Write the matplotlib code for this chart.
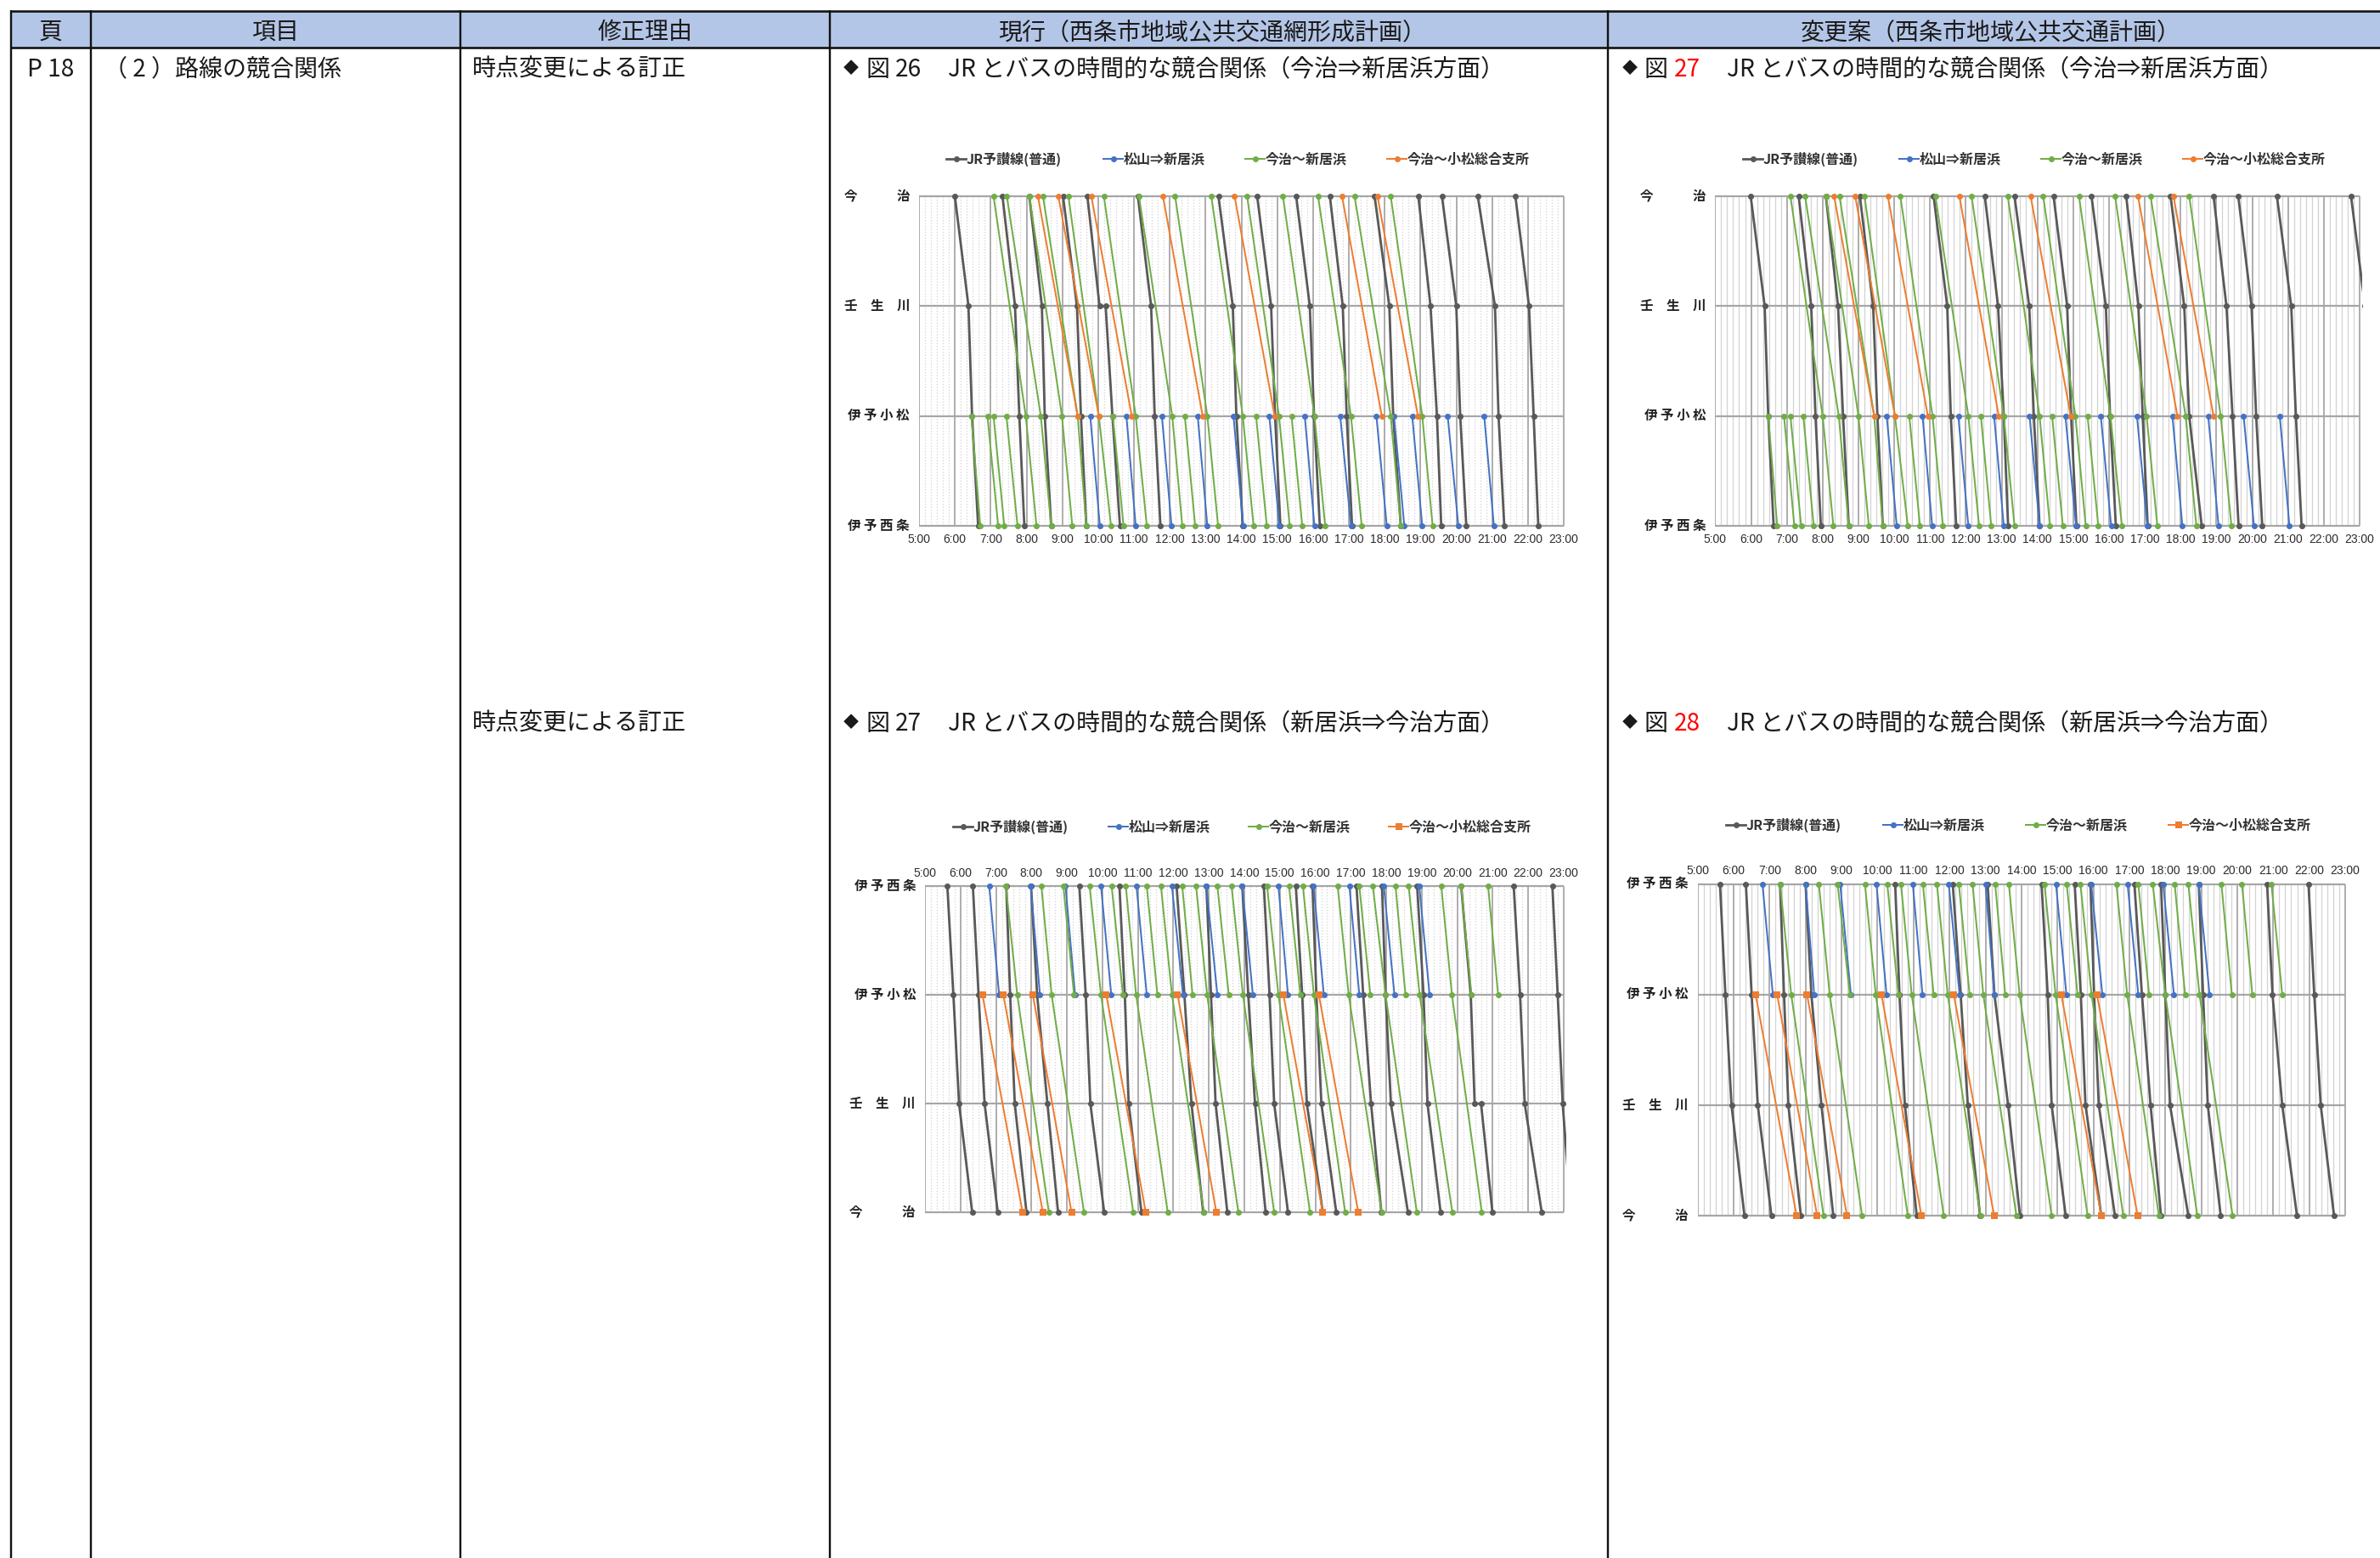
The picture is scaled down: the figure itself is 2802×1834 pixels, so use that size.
import matplotlib
matplotlib.use("Agg")
import matplotlib.pyplot as plt
from matplotlib.lines import Line2D
from matplotlib.patches import Rectangle
from matplotlib.transforms import ScaledTranslation

W, H, DPI = 2802, 1834, 200
CJK = ['Noto Sans CJK JP', 'DejaVu Sans']
NARROW = ['Liberation Sans', 'DejaVu Sans']
plt.rcParams['font.family'] = CJK

# ---------- text ----------
HEADERS = ['頁', '項目', '修正理由', '現行（西条市地域公共交通網形成計画）', '変更案（西条市地域公共交通計画）']
PAGE = 'P 18'
ITEM = '（ 2 ）路線の競合関係'
REASON = '時点変更による訂正'
TITLE_DOWN = 'JR とバスの時間的な競合関係（今治⇒新居浜方面）'
TITLE_UP = 'JR とバスの時間的な競合関係（新居浜⇒今治方面）'
SERIES_NAMES = ['JR予讃線(普通)', '松山⇒新居浜', '今治～新居浜', '今治～小松総合支所']
STATIONS_DOWN = ['今　　　治', '壬　生　川', '伊 予 小 松', '伊 予 西 条']
STATIONS_UP = ['伊 予 西 条', '伊 予 小 松', '壬　生　川', '今　　　治']
HOURS = list(range(5, 24))
HOUR_LABELS = [f'{h}:00' for h in HOURS]

# ---------- data: decimal hours at each of the 4 stations, top row to bottom row ----------
# None = no stop shown; a tuple = arrival and departure at the same station
# 現行・下り
JR_1 = [[6.00, 6.38, 6.48, 6.65], [7.33, 7.68, 7.80, 7.94], [8.08, 8.43, 8.51, 8.69],
        [9.02, 9.41, 9.52, 9.67], [9.70, (10.04, 10.21), 10.40, 10.61], [11.11, 11.48, 11.58, 11.74],
        [13.36, 13.76, 13.86, 14.04], [14.44, 14.83, 14.94, 15.09], [15.53, 15.91, 16.03, 16.19],
        [16.47, 16.83, 16.94, 17.09], [17.72, 18.13, 18.24, 18.45], [18.94, 19.28, 19.46, 19.58],
        [19.60, 20.00, 20.11, 20.28], [20.60, 21.08, 21.18, 21.34], [21.65, 22.03, 22.16, 22.29]]
BLUE_1 = [[None, None, a, b] for a, b in [
    (9.78, 10.05), (10.79, 11.05), (11.78, 12.05), (12.78, 13.05), (13.78, 14.05), (14.78, 15.06),
    (15.77, 16.04), (16.76, 17.06), (17.77, 18.06), (18.26, 18.55), (18.77, 19.05), (19.76, 20.06),
    (20.78, 21.05)]]
GREEN_1 = [[7.08, None, 7.98, 8.28], [7.45, None, 8.40, 8.69], [8.08, None, 8.99, 9.28],
           [8.46, None, 9.43, 9.67], [9.17, None, 10.02, 10.36], [10.16, None, 11.05, 11.36],
           [11.14, None, 12.07, 12.35], [12.15, None, 13.05, 13.35], [13.16, None, 14.04, 14.34],
           [14.16, None, 15.05, 15.35], [15.16, None, 16.04, 16.34], [16.14, None, 17.06, 17.36],
           [17.16, None, 18.17, 18.45], [18.17, None, 19.05, 19.34],
           [None, None, 6.46, 6.71], [None, None, 6.91, 7.21], [None, None, 7.08, 7.38],
           [None, None, 7.44, 7.75], [None, None, 10.41, 10.71], [None, None, 12.42, 12.71],
           [None, None, 14.41, 14.71], [None, None, 15.40, 15.70]]
ORANGE_1 = [[8.32, None, 9.43, None], [8.89, None, 10.02, None], [9.81, None, 10.94, None],
            [11.81, None, 12.92, None], [13.81, None, 14.93, None], [16.81, None, 17.92, None],
            [17.80, None, 18.93, None]]
# 現行・上り
JR_2 = [[5.63, 5.80, 5.96, 6.33], [6.35, 6.51, 6.68, 7.05], [7.29, 7.40, 7.53, 7.86],
        [7.99, 8.16, 8.45, 8.75], [9.35, 9.53, 9.66, 10.05], [10.48, 10.63, 10.74, 11.10],
        [12.09, 12.31, 12.51, 12.84], [12.93, 13.06, 13.19, 13.52], [13.94, 14.11, 14.30, 14.60],
        [14.55, 14.71, 14.84, 15.23], [15.45, 15.63, 15.76, 16.21], [15.92, 16.03, 16.17, 16.59],
        [17.16, 17.35, 17.57, 17.86], [17.88, 17.98, 18.13, 18.61], [18.87, 19.05, 19.16, 19.53],
        [20.11, 20.38, (20.49, 20.67), 20.99], [21.59, 21.77, 21.90, 22.38], [22.68, 22.83, 22.97, 23.20]]
BLUE_2 = [[a, b, None, None] for a, b in [
    (6.81, 7.09), (7.98, 8.24), (8.96, 9.23), (9.96, 10.25), (10.96, 11.25), (11.96, 12.27),
    (12.93, 13.24), (13.94, 14.24), (14.96, 15.23), (15.95, 16.24), (16.96, 17.24), (17.93, 18.23),
    (18.93, 19.22)]]
GREEN_2 = [[7.28, 7.60, None, 8.49], [8.28, 8.57, None, 9.48], [8.90, 9.20, None, None],
           [9.64, 9.96, None, 10.87], [10.26, 10.58, None, None], [10.66, 10.95, None, 11.84],
           [11.25, 11.55, None, None], [11.65, 11.96, None, 12.86], [12.25, 12.54, None, None],
           [12.64, 12.95, None, 13.83], [13.24, 13.56, None, None], [13.64, 13.96, None, 14.84],
           [14.64, 14.96, None, 15.85], [15.26, 15.58, None, None], [15.65, 15.96, None, 16.84],
           [16.63, 16.94, None, 17.87], [17.24, 17.55, None, None], [17.62, 17.98, None, 18.86],
           [18.26, 18.54, None, None], [18.63, 18.94, None, 19.86], [19.55, 19.85, None, 20.69],
           [20.11, 20.40, None, None], [20.87, 21.15, None, None]]
ORANGE_2 = [[None, 6.62, None, 7.75], [None, 7.21, None, 8.32], [None, 8.04, None, 9.13],
            [None, 10.11, None, 11.22], [None, 12.12, None, 13.21], [None, 15.10, None, 16.21],
            [None, 16.10, None, 17.21]]
# 変更案・下り
JR_3 = [[5.99, 6.38, 6.48, 6.63], [7.33, 7.68, 7.80, 7.95], [8.09, 8.43, 8.57, 8.73],
        [9.04, 9.41, 9.53, 9.68], [11.10, 11.48, 11.58, 11.73], [12.53, 12.90, 13.06, 13.18],
        [13.36, 13.77, 13.90, 14.06], [14.45, 14.83, 14.94, 15.09], [15.51, 15.91, 16.03, 16.19],
        [16.48, 16.82, 16.94, 17.08], [17.72, 18.10, 18.24, 18.59], [18.92, 19.28, 19.45, 19.62],
        [19.61, 19.98, 20.11, 20.28], [20.69, 21.09, 21.22, 21.38], [22.76, 23.15, None, None]]
BLUE_3 = [[None, None, a, b] for a, b in [
    (9.79, 10.07), (10.79, 11.06), (11.79, 12.07), (12.79, 13.06), (13.78, 14.06), (14.78, 15.08),
    (15.77, 16.06), (16.78, 17.07), (17.77, 18.05), (18.77, 19.06), (19.76, 20.05), (20.77, 21.04)]]
GREEN_3 = [[7.10, None, 8.00, 8.30], [7.51, None, 8.45, 8.73], [8.09, None, 9.00, 9.29],
           [8.47, None, 9.44, 9.68], [9.17, None, 10.02, 10.38], [10.17, None, 11.07, 11.36],
           [11.15, None, 12.07, 12.37], [12.16, None, 13.06, 13.36], [13.17, None, 14.06, 14.35],
           [14.16, None, 15.06, 15.35], [15.16, None, 16.04, 16.36], [16.17, None, 17.05, 17.35],
           [17.16, None, 18.14, 18.44], [18.24, None, 19.12, 19.42],
           [None, None, 6.48, 6.73], [None, None, 6.92, 7.21], [None, None, 7.10, 7.40],
           [None, None, 7.46, 7.75], [None, None, 10.42, 10.72], [None, None, 12.42, 12.71],
           [None, None, 14.41, 14.71], [None, None, 15.40, 15.70]]
ORANGE_3 = [[8.32, None, 9.44, None], [8.91, None, 10.02, None], [9.82, None, 10.94, None],
            [11.82, None, 12.92, None], [13.81, None, 14.93, None], [16.81, None, 17.91, None],
            [17.80, None, 18.92, None]]
# 変更案・上り
JR_4 = [[5.62, 5.77, 5.94, 6.30], [6.34, 6.50, 6.67, 7.05], [7.29, 7.40, 7.52, 7.87],
        [8.00, 8.16, 8.44, 8.77], [10.49, 10.61, 10.76, 11.09], [12.09, 12.31, 12.51, 12.85],
        [13.06, 13.25, 13.63, 13.96], [14.56, 14.73, 14.84, 15.23], [15.48, 15.65, 15.78, 16.22],
        [15.92, 16.02, 16.15, 16.60], [17.14, 17.35, 17.59, 17.88], [17.88, 18.00, 18.13, 18.64],
        [18.93, 19.05, 19.18, 19.54], [20.83, 20.98, 21.25, 21.66], [21.98, 22.14, 22.32, 22.69]]
BLUE_4 = [[a, b, None, None] for a, b in [
    (6.80, 7.09), (8.00, 8.24), (8.96, 9.26), (9.97, 10.25), (10.98, 11.25), (11.98, 12.28),
    (13.00, 13.25), (14.96, 15.25), (15.94, 16.25), (16.95, 17.25), (17.94, 18.24), (18.93, 19.23)]]
GREEN_4 = [[7.29, 7.60, None, 8.50], [8.37, 8.67, None, 9.57], [8.89, 9.23, None, None],
           [9.65, 9.95, None, 10.84], [10.27, 10.58, None, None], [10.65, 10.95, None, 11.84],
           [11.26, 11.56, None, None], [11.65, 11.95, None, 12.86], [12.26, 12.56, None, None],
           [12.64, 12.94, None, 13.86], [13.27, 13.55, None, None], [13.65, 13.95, None, 14.84],
           [14.64, 14.95, None, 15.84], [15.26, 15.56, None, None], [15.64, 15.95, None, 16.83],
           [16.64, 16.94, None, 17.82], [17.25, 17.55, None, None], [17.65, 18.00, None, 18.89],
           [18.26, 18.55, None, None], [18.64, 18.95, None, 19.87], [19.56, 19.85, None, None],
           [20.13, 20.42, None, None], [20.95, 21.25, None, None]]
ORANGE_4 = [[None, 6.61, None, 7.75], [None, 7.21, None, 8.32], [None, 8.04, None, 9.15],
            [None, 10.11, None, 11.22], [None, 12.12, None, 13.24], [None, 15.11, None, 16.22],
            [None, 16.10, None, 17.23]]

# ---------- styles ----------
GRAY, BLUE, GREEN, ORANGE = '#595959', '#4472C4', '#70AD47', '#ED7D31'
HEAD_FILL = '#B4C6E7'
INK = '#1a1a1a'
px = 72 / DPI  # one pixel in points

fig = plt.figure(figsize=(W / DPI, H / DPI), dpi=DPI, facecolor='white')

# ---------- table ----------
bg = fig.add_axes([0, 0, 1, 1])
bg.set_xlim(0, W)
bg.set_ylim(H, 0)
bg.axis('off')
COLS = [12.6, 106.8, 541.8, 977, 1893, W]
HEAD_X = [59.7, 324.3, 759.4, 1427, 2344]
TOP, HEAD_B = 12.5, 55.5
bg.add_patch(Rectangle((COLS[0], TOP), W - COLS[0], HEAD_B - TOP, fc=HEAD_FILL, ec='none', zorder=1))
for x in COLS[:-1]:
    bg.plot([x, x], [TOP - 1, H], color='#111111', lw=2.4 * px, zorder=3, solid_capstyle='butt')
for y in (TOP, HEAD_B):
    bg.plot([COLS[0] - 1, W], [y, y], color='#111111', lw=2.6 * px, zorder=3, solid_capstyle='butt')
FS = 10.1
ROW1, ROW2 = 81.5, 851.5
for xc, t in zip(HEAD_X, HEADERS):
    bg.text(xc, 38, t, ha='center', va='center', fontsize=FS, color=INK)
bg.text(60, ROW1, PAGE, ha='center', va='center', fontsize=FS, color=INK)
bg.text(122, ROW1, ITEM, ha='left', va='center', fontsize=FS, color=INK)
bg.text(556, ROW1, REASON, ha='left', va='center', fontsize=FS, color=INK)
bg.text(556, ROW2, REASON, ha='left', va='center', fontsize=FS, color=INK)


def title(x0, y, num, rest, red):
    bg.text(x0, y, '◆', ha='left', va='center', fontsize=6.5, color=INK)
    bg.text(x0 + 26, y, '図', ha='left', va='center', fontsize=FS, color=INK)
    bg.text(x0 + 61, y, num, ha='left', va='center', fontsize=FS, color='red' if red else INK)
    bg.text(x0 + 123, y, rest, ha='left', va='center', fontsize=FS, color=INK)


title(993, ROW1, '26', TITLE_DOWN, False)
title(1910, ROW1, '27', TITLE_DOWN, True)
title(993, ROW2, '27', TITLE_UP, False)
title(1910, ROW2, '28', TITLE_UP, True)


# ---------- charts ----------
def flatten(trip):
    xs, ys = [], []
    for row, v in enumerate(trip):
        if v is None:
            continue
        for t in (v if isinstance(v, tuple) else (v,)):
            xs.append(t)
            ys.append(row)
    return xs, ys


def chart(x5, x23, y_top, y_bot, stations, minor_ls, top_ticks, data, orange_marker, orange_ms):
    xm, ym = 0.06, 0.035
    hour = (x23 - x5) / 18
    row = (y_bot - y_top) / 3
    left = x5
    right = x23 + xm * hour
    top = y_top - ym * row
    bot = y_bot + ym * row
    ax = fig.add_axes([left / W, 1 - bot / H, (right - left) / W, (bot - top) / H])
    ax.patch.set_alpha(0)
    ax.set_xlim(5, 23 + xm)
    ax.set_ylim(3 + ym, -ym)
    for s in ax.spines.values():
        s.set_visible(False)
    minors = [h + m / 60 for h in HOURS[:-1] for m in (10, 20, 30, 40, 50)]
    ax.vlines(minors, 0, 3, color='#D4D4D4', lw=1.3 * px, linestyles=minor_ls, zorder=1)
    ax.vlines(HOURS, 0, 3, color='#A6A6A6', lw=1.8 * px, zorder=1.5)
    ax.hlines(range(4), 5, 23, color='#A6A6A6', lw=2.2 * px, zorder=1.6)
    ax.set_xticks(HOURS, HOUR_LABELS, family=NARROW, fontsize=5.0, color='#2b2b2b')
    ax.set_yticks(range(4), stations, family=CJK, fontsize=5.6, fontweight='bold', color='#222222')
    ax.tick_params(axis='both', length=0)
    ax.tick_params(axis='y', pad=11 * px)
    ax.tick_params(axis='x', pad=4 * px, labeltop=top_ticks, labelbottom=not top_ticks,
                   top=False, bottom=False)
    for lab in ax.get_yticklabels():
        lab.set_transform(lab.get_transform() + ScaledTranslation(0, 2 * px / 72, fig.dpi_scale_trans))
    styles = [(GRAY, 2.8, 'o', 7.0), (BLUE, 2.0, 'o', 7.0), (GREEN, 2.0, 'o', 7.0),
              (ORANGE, 2.0, orange_marker, orange_ms)]
    for k, (series, (c, lw, mk, ms)) in enumerate(zip(data, styles)):
        for trip in series:
            xs, ys = flatten(trip)
            ax.plot(xs, ys, color=c, lw=lw * px, marker=mk, ms=ms * px, mec=c, mew=0,
                    zorder=3 + k * 0.1, solid_joinstyle='round')
    return ax, styles


def legend(xs_handle, y, styles):
    for (xh, name, (c, lw, mk, ms)) in zip(xs_handle, SERIES_NAMES, styles):
        bg.add_line(Line2D([xh, xh + 23], [y, y], color=c, lw=lw * px, zorder=4))
        bg.add_line(Line2D([xh + 11.5], [y], color=c, marker=mk, ms=ms * px, mew=0, ls='none', zorder=4))
        bg.text(xh + 24, y, name, ha='left', va='center', fontsize=5.75, fontweight='bold',
                color='#333333', zorder=4)


_, st = chart(1082, 1841, 231, 619.3, STATIONS_DOWN, ':', False,
              [JR_1, BLUE_1, GREEN_1, ORANGE_1], 'o', 7.0)
legend([1114, 1299, 1466, 1633], 187, st)
_, st = chart(1089, 1841, 1043.3, 1427, STATIONS_UP, ':', True,
              [JR_2, BLUE_2, GREEN_2, ORANGE_2], 's', 7.5)
legend([1122, 1305, 1470, 1635], 973, st)
_, st = chart(2019.4, 2778, 231, 619.3, STATIONS_DOWN, '-', False,
              [JR_3, BLUE_3, GREEN_3, ORANGE_3], 'o', 7.0)
legend([2052, 2236, 2403, 2570], 187, st)
_, st = chart(1998.7, 2761, 1040.7, 1431, STATIONS_UP, '-', True,
              [JR_4, BLUE_4, GREEN_4, ORANGE_4], 's', 8.5)
legend([2032, 2217, 2385, 2553], 971, st)

fig.savefig('out.png', dpi=DPI, facecolor='white')
